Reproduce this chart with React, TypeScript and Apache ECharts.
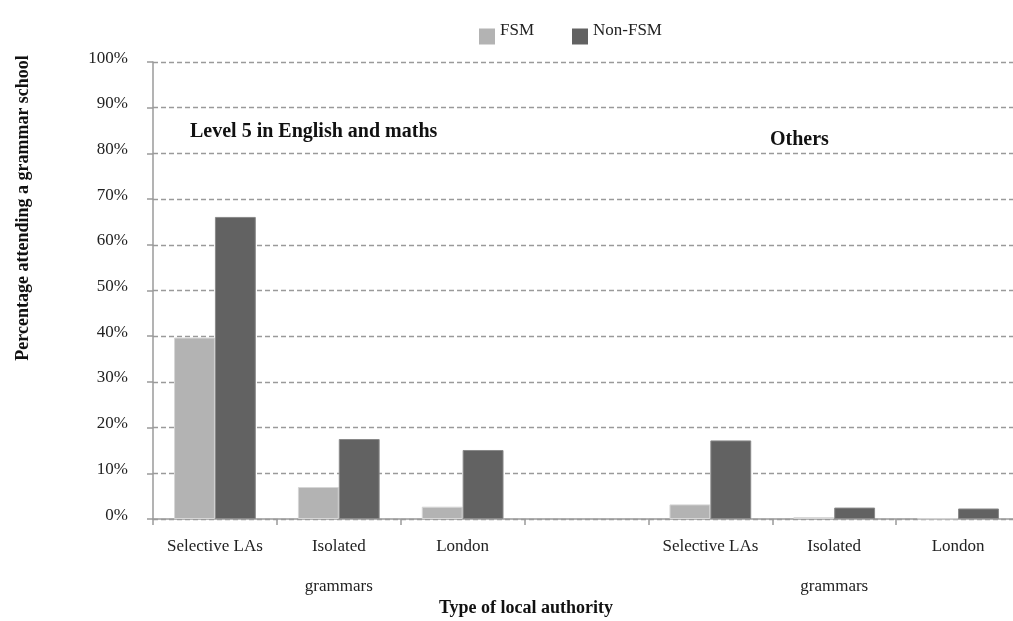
import { useEffect, useRef } from 'react'
import * as echarts from 'echarts'

const categories = ['Selective LAs', 'Isolated\ngrammars', 'London', '', 'Selective LAs', 'Isolated\ngrammars', 'London']
const fsm = [39.7, 7.0, 2.7, null, 3.2, 0.4, 0.1]
const nonFsm = [66.1, 17.5, 15.1, null, 17.2, 2.5, 2.3]
const yTicks = [0, 10, 20, 30, 40, 50, 60, 70, 80, 90, 100]

const FONT = 'Liberation Serif'
const AXIS_GREY = '#9a9a9a'

export default function App() {
  const hostRef = useRef<HTMLDivElement | null>(null)

  useEffect(() => {
    const host = hostRef.current
    if (!host) return
    const chart = echarts.init(host, undefined, { renderer: 'svg' })

    chart.setOption({
      animation: false,
      textStyle: { fontFamily: FONT },
      legend: {
        left: 479,
        top: 21,
        padding: 0,
        icon: 'rect',
        itemWidth: 16,
        itemHeight: 16,
        itemGap: 38,
        itemStyle: { borderWidth: 0 },
        formatter: '{t|{name}}',
        textStyle: {
          fontFamily: FONT,
          fontSize: 17,
          color: '#222',
          rich: { t: { fontFamily: FONT, fontSize: 17, color: '#222', padding: [0, 0, 14, 0] } },
        },
        data: ['FSM', 'Non-FSM'],
      },
      grid: { left: 153, top: 62, height: 457, width: 867, outerBoundsMode: 'none' },
      xAxis: {
        type: 'category',
        data: categories,
        axisLine: { lineStyle: { color: AXIS_GREY, width: 1.5 } },
        axisTick: { show: true, length: 6, lineStyle: { color: AXIS_GREY, width: 1.5 } },
        axisLabel: { fontFamily: FONT, fontSize: 17, color: '#222', lineHeight: 40, margin: 6, interval: 0 },
      },
      yAxis: {
        type: 'value',
        min: 0,
        max: 100,
        interval: 10,
        axisLine: { show: true, lineStyle: { color: AXIS_GREY, width: 1.5 } },
        axisTick: { show: true, length: 6, lineStyle: { color: AXIS_GREY, width: 1.5 } },
        axisLabel: {
          fontFamily: FONT,
          fontSize: 17,
          color: '#222',
          margin: 25,
          formatter: (v: number) => (yTicks.includes(v) ? `{v|${v}%}` : ''),
          rich: { v: { fontFamily: FONT, fontSize: 17, color: '#222', padding: [0, 0, 10, 0] } },
        },
        splitLine: { lineStyle: { color: AXIS_GREY, type: [5, 3], width: 1.3 } },
      },
      series: [
        {
          name: 'FSM',
          type: 'bar',
          data: fsm,
          barGap: '0%',
          barCategoryGap: '34%',
          itemStyle: { color: '#b3b3b3', borderColor: '#d6d6d6', borderWidth: 1 },
        },
        {
          name: 'Non-FSM',
          type: 'bar',
          data: nonFsm,
          barGap: '0%',
          barCategoryGap: '34%',
          itemStyle: { color: '#626262', borderColor: '#8a8a8a', borderWidth: 1 },
        },
      ],
      graphic: [
        {
          type: 'text',
          x: 190,
          y: 130,
          style: {
            text: 'Level 5 in English and maths',
            font: `bold 20px "${FONT}"`,
            fill: '#111',
            verticalAlign: 'middle',
          },
        },
        {
          type: 'text',
          x: 770,
          y: 138,
          style: { text: 'Others', font: `bold 20px "${FONT}"`, fill: '#111', verticalAlign: 'middle' },
        },
        {
          type: 'text',
          x: 526,
          y: 607,
          style: {
            text: 'Type of local authority',
            font: `bold 18px "${FONT}"`,
            fill: '#111',
            align: 'center',
            verticalAlign: 'middle',
          },
        },
        {
          type: 'text',
          x: 22,
          y: 208,
          rotation: Math.PI / 2,
          style: {
            text: 'Percentage attending a grammar school',
            font: `bold 18px "${FONT}"`,
            fill: '#111',
            align: 'center',
            verticalAlign: 'middle',
          },
        },
      ],
    })

    return () => chart.dispose()
  }, [])

  return <div ref={hostRef} style={{ position: 'fixed', left: 0, top: 0, width: 1013, height: 621 }} />
}
